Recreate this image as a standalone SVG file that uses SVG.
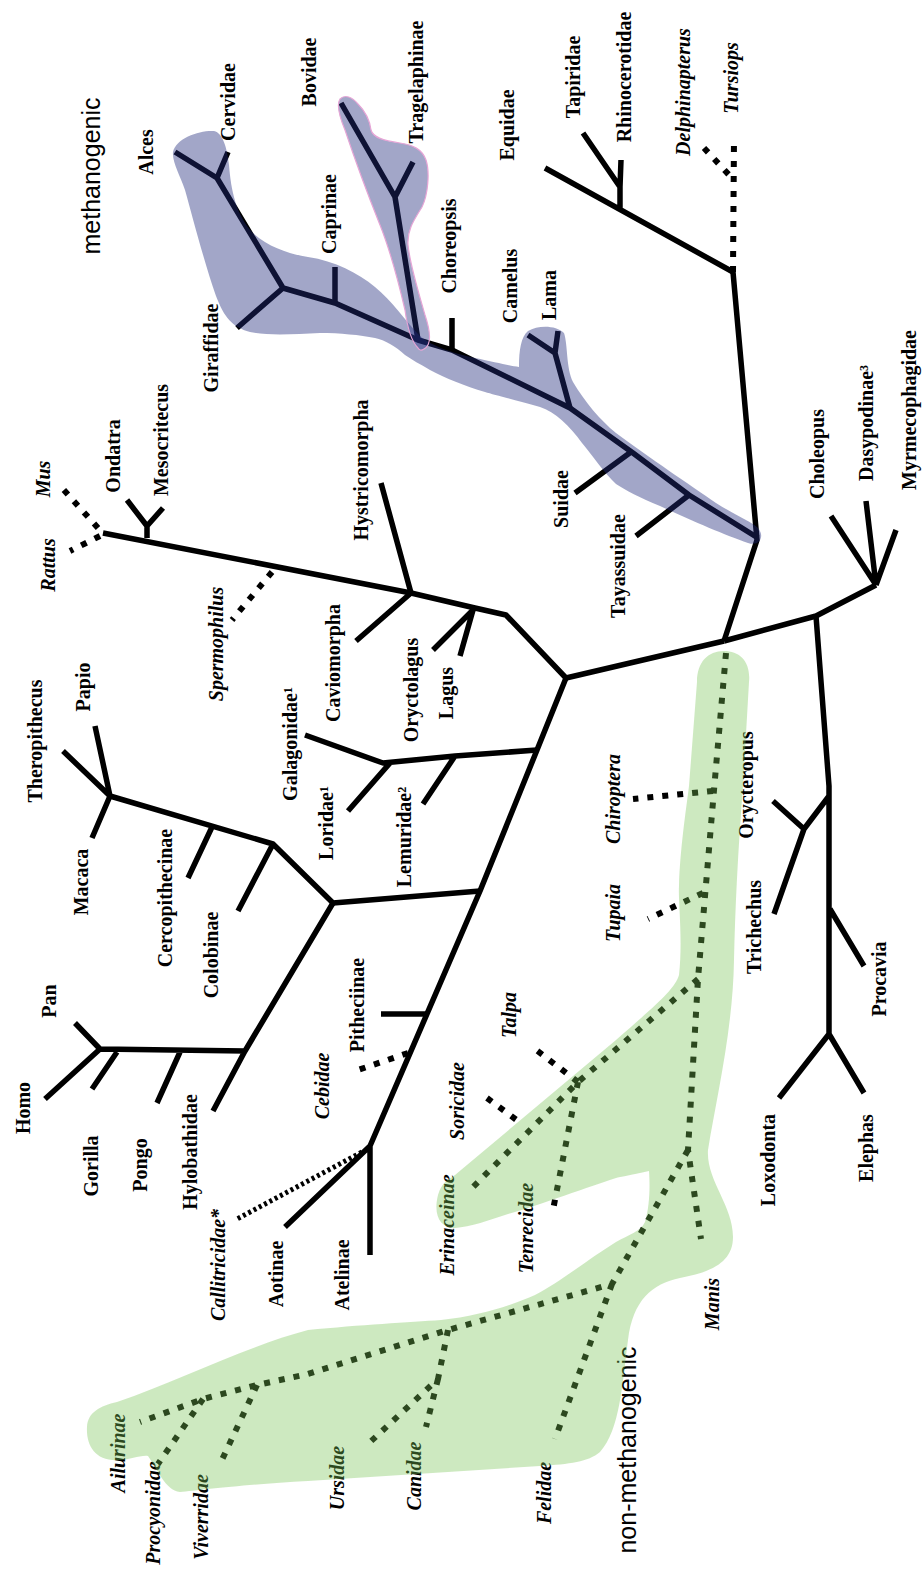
<svg xmlns="http://www.w3.org/2000/svg" width="924" height="1570" viewBox="0 0 924 1570">
<style>
.t{font-family:"Liberation Serif",serif;font-size:20px;font-weight:bold;text-anchor:middle;fill:#000}
.i{font-style:italic}
.lab{font-family:"Liberation Sans",Arial,sans-serif;font-size:25px;text-anchor:middle;fill:#000}
.s{fill:none;stroke:#000;stroke-width:5.5;stroke-linejoin:round}
.d{fill:none;stroke:#000;stroke-width:6;stroke-dasharray:6 9}
.f{fill:none;stroke:#000;stroke-width:5;stroke-dasharray:3 3}
.blue{fill:#222b7c;fill-opacity:0.42}
.green{fill:#77c354;fill-opacity:0.37}
</style>
<rect width="924" height="1570" fill="#fff"/>
<g id="connectors">
<path class="s" d="M758,538 L689,495 L633,453 L570,408 L452,350 L418,340 L335,303 L283,288 L217,178 L175,152"/>
<path class="s" d="M283,288 L237,328 M217,178 L228,152 M335,303 L335,267 M452,350 L452,318"/>
<path class="s" d="M418,340 L395,197 L341,103 M395,197 L413,162"/>
<path class="s" d="M570,408 L555,353 L528,335 M555,353 L558,331"/>
<path class="s" d="M631,452 L575,493 M689,495 L636,536"/>
<path class="s" d="M724,641 L757,540 L733,272"/>
<path class="s" d="M733,272 L545,168 M620,210 L620,187 L583,133 M620,187 L621,160"/>
<path class="d" d="M733,272 L734,137 M704,148 L731,177"/>
<path class="s" d="M724,641 L816,616 L876,585 M876,585 L831,516 M876,585 L866,501 M876,585 L896,530"/>
<path class="s" d="M816,616 L829,786 L829,1034 M829,796 L804,829 L773,801 M804,829 L774,914 M830,909 L864,966 M829,1034 L779,1098 M829,1034 L864,1093"/>
<path class="s" d="M724,641 L566,678 L506,615 L475,608 L411,593 L103,533"/>
<path class="s" d="M475,608 L433,650 M473,610 L460,656 M411,593 L381,483 M411,593 L356,641"/>
<path class="s" d="M147,538 L147,526 L127,500 M147,526 L163,508"/>
<path class="d" d="M272,572 L232,620 M98,528 L62,488 M100,536 L70,551"/>
<path class="s" d="M566,678 L537,750 L480,891 L370,1146 L370,1255 M370,1146 L285,1227"/>
<path class="s" d="M537,750 L455,756 L383,763 L305,735 M390,763 L348,811 M455,756 L423,804"/>
<path class="s" d="M428,1014 L381,1014"/>
<path class="d" d="M408,1053 L355,1071"/>
<path class="f" d="M362,1152 L237,1219"/>
<path class="s" d="M480,891 L333,903 L273,844 L110,796 M110,796 L92,838 M110,796 L63,751 M110,796 L95,726 M273,844 L238,911 M212,827 L188,878"/>
<path class="s" d="M333,903 L245,1051 L100,1049 M245,1051 L213,1111 M180,1052 L157,1103 M117,1052 L92,1089 M100,1049 L45,1099 M100,1049 L75,1023"/>
<path class="d" d="M726,653 L714,790 L698,979 L688,1150 L701,1239"/>
<path class="d" d="M713,791 L633,799 M703,893 L648,919"/>
<path class="d" d="M698,979 L578,1082 L470,1190 M578,1082 L531,1046 M578,1082 L553,1210 M487,1098 L522,1124"/>
<path class="d" d="M688,1150 L612,1284 L448,1330 L308,1374 L257,1385 L203,1399 L140,1422 M203,1399 L158,1464 M257,1385 L220,1464 M448,1330 L438,1379 L368,1444 M438,1379 L426,1427 M612,1284 L555,1439"/>
</g>
<g id="labels">
<g id="n-alces"><text class="t" transform="translate(153,152) rotate(-90)">Alces</text></g>
<g id="n-cervidae"><text class="t" transform="translate(235,102) rotate(-90)">Cervidae</text></g>
<g id="n-bovidae"><text class="t" transform="translate(316,72) rotate(-90)">Bovidae</text></g>
<g id="n-tragelaphinae"><text class="t" transform="translate(423,82) rotate(-90)">Tragelaphinae</text></g>
<g id="n-caprinae"><text class="t" transform="translate(336,214) rotate(-90)">Caprinae</text></g>
<g id="n-choreopsis"><text class="t" transform="translate(456,246) rotate(-90)">Choreopsis</text></g>
<g id="n-equidae"><text class="t" transform="translate(514,125) rotate(-90)">Equidae</text></g>
<g id="n-camelus"><text class="t" transform="translate(517,286) rotate(-90)">Camelus</text></g>
<g id="n-lama"><text class="t" transform="translate(556,295) rotate(-90)">Lama</text></g>
<g id="n-tapiridae"><text class="t" transform="translate(580,77) rotate(-90)">Tapiridae</text></g>
<g id="n-rhinocerotidae"><text class="t" transform="translate(631,77) rotate(-90)">Rhinocerotidae</text></g>
<g id="n-delphinapterus"><text class="t i" transform="translate(690,92) rotate(-90)">Delphinapterus</text></g>
<g id="n-tursiops"><text class="t i" transform="translate(738,78) rotate(-90)">Tursiops</text></g>
<g id="n-giraffidae"><text class="t" transform="translate(218,348) rotate(-90)">Giraffidae</text></g>
<g id="n-mesocritecus"><text class="t" transform="translate(168,440) rotate(-90)">Mesocritecus</text></g>
<g id="n-ondatra"><text class="t" transform="translate(120,456) rotate(-90)">Ondatra</text></g>
<g id="n-mus"><text class="t i" transform="translate(50,479) rotate(-90)">Mus</text></g>
<g id="n-rattus"><text class="t i" transform="translate(55,565) rotate(-90)">Rattus</text></g>
<g id="n-spermophilus"><text class="t i" transform="translate(223,644) rotate(-90)">Spermophilus</text></g>
<g id="n-hystricomorpha"><text class="t" transform="translate(368,470) rotate(-90)">Hystricomorpha</text></g>
<g id="n-caviomorpha"><text class="t" transform="translate(340,663) rotate(-90)">Caviomorpha</text></g>
<g id="n-oryctolagus"><text class="t" transform="translate(418,690) rotate(-90)">Oryctolagus</text></g>
<g id="n-lagus"><text class="t" transform="translate(453,693) rotate(-90)">Lagus</text></g>
<g id="n-suidae"><text class="t" transform="translate(568,499) rotate(-90)">Suidae</text></g>
<g id="n-tayassuidae"><text class="t" transform="translate(625,566) rotate(-90)">Tayassuidae</text></g>
<g id="n-choleopus"><text class="t" transform="translate(824,454) rotate(-90)">Choleopus</text></g>
<g id="n-dasypodinae"><text class="t" transform="translate(873,423) rotate(-90)">Dasypodinae³</text></g>
<g id="n-myrmecophagidae"><text class="t" transform="translate(916,410) rotate(-90)">Myrmecophagidae</text></g>
<g id="n-theropithecus"><text class="t" transform="translate(42,741) rotate(-90)">Theropithecus</text></g>
<g id="n-papio"><text class="t" transform="translate(90,687) rotate(-90)">Papio</text></g>
<g id="n-galagonidae"><text class="t" transform="translate(297,744) rotate(-90)">Galagonidae¹</text></g>
<g id="n-loridae"><text class="t" transform="translate(333,823) rotate(-90)">Loridae¹</text></g>
<g id="n-lemuridae"><text class="t" transform="translate(411,837) rotate(-90)">Lemuridae²</text></g>
<g id="n-macaca"><text class="t" transform="translate(88,882) rotate(-90)">Macaca</text></g>
<g id="n-cercopithecinae"><text class="t" transform="translate(172,898) rotate(-90)">Cercopithecinae</text></g>
<g id="n-colobinae"><text class="t" transform="translate(218,955) rotate(-90)">Colobinae</text></g>
<g id="n-pan"><text class="t" transform="translate(56,1001) rotate(-90)">Pan</text></g>
<g id="n-homo"><text class="t" transform="translate(30,1108) rotate(-90)">Homo</text></g>
<g id="n-gorilla"><text class="t" transform="translate(98,1166) rotate(-90)">Gorilla</text></g>
<g id="n-pongo"><text class="t" transform="translate(147,1165) rotate(-90)">Pongo</text></g>
<g id="n-hylobathidae"><text class="t" transform="translate(197,1152) rotate(-90)">Hylobathidae</text></g>
<g id="n-callitricidae"><text class="t i" transform="translate(225,1265) rotate(-90)">Callitricidae*</text></g>
<g id="n-aotinae"><text class="t" transform="translate(283,1274) rotate(-90)">Aotinae</text></g>
<g id="n-atelinae"><text class="t" transform="translate(349,1275) rotate(-90)">Atelinae</text></g>
<g id="n-pitheciinae"><text class="t" transform="translate(364,1005) rotate(-90)">Pitheciinae</text></g>
<g id="n-cebidae"><text class="t i" transform="translate(329,1086) rotate(-90)">Cebidae</text></g>
<g id="n-talpa"><text class="t i" transform="translate(516,1015) rotate(-90)">Talpa</text></g>
<g id="n-soricidae"><text class="t i" transform="translate(464,1101) rotate(-90)">Soricidae</text></g>
<g id="n-erinaceinae"><text class="t i" transform="translate(454,1225) rotate(-90)">Erinaceinae</text></g>
<g id="n-tenrecidae"><text class="t i" transform="translate(533,1228) rotate(-90)">Tenrecidae</text></g>
<g id="n-chiroptera"><text class="t i" transform="translate(620,799) rotate(-90)">Chiroptera</text></g>
<g id="n-tupaia"><text class="t i" transform="translate(620,913) rotate(-90)">Tupaia</text></g>
<g id="n-orycteropus"><text class="t" transform="translate(753,785) rotate(-90)">Orycteropus</text></g>
<g id="n-trichechus"><text class="t" transform="translate(761,927) rotate(-90)">Trichechus</text></g>
<g id="n-procavia"><text class="t" transform="translate(886,979) rotate(-90)">Procavia</text></g>
<g id="n-loxodonta"><text class="t" transform="translate(775,1160) rotate(-90)">Loxodonta</text></g>
<g id="n-elephas"><text class="t" transform="translate(873,1148) rotate(-90)">Elephas</text></g>
<g id="n-manis"><text class="t i" transform="translate(719,1304) rotate(-90)">Manis</text></g>
<g id="n-ailurinae"><text class="t i" transform="translate(125,1453) rotate(-90)">Ailurinae</text></g>
<g id="n-procyonidae"><text class="t i" transform="translate(160,1513) rotate(-90)">Procyonidae</text></g>
<g id="n-viverridae"><text class="t i" transform="translate(208,1517) rotate(-90)">Viverridae</text></g>
<g id="n-ursidae"><text class="t i" transform="translate(344,1478) rotate(-90)">Ursidae</text></g>
<g id="n-canidae"><text class="t i" transform="translate(421,1476) rotate(-90)">Canidae</text></g>
<g id="n-felidae"><text class="t i" transform="translate(551,1493) rotate(-90)">Felidae</text></g>
<g id="methanogenic"><text class="lab" transform="translate(100,176) rotate(-90)">methanogenic</text></g>
<g id="non-methanogenic"><text class="lab" transform="translate(636,1450) rotate(-90)">non-methanogenic</text></g>
</g>
<g id="regions">
<path id="region-methanogenic" class="blue" d="M173,152 C176,138 200,130 214,131 C223,133 227,148 229,165 C231,190 236,215 253,233 C268,247 290,254 308,257 C335,261 358,273 375,287 C392,301 405,320 418,334 C428,345 452,353 475,358 C495,362 510,366 519,367 C519,350 521,337 528,331 C538,325 556,325 564,333 C568,345 566,368 573,382 C585,402 600,420 616,433 C650,458 690,485 716,503 C735,515 752,522 758,528 C765,536 760,547 748,543 C725,535 690,520 660,506 C640,498 625,490 616,484 C605,474 592,455 582,443 C570,426 555,412 540,407 C515,400 495,395 485,392 C465,386 445,378 430,370 C420,364 412,360 405,355 C395,346 385,340 375,338 C360,335 340,333 320,333 C295,334 270,336 250,332 C232,327 224,317 216,296 C205,265 192,215 185,190 C180,175 172,162 173,152 Z"/>
<path id="region-bovidae" class="blue" stroke="#e6a5d6" stroke-width="1.2" d="M418,348 C410,340 407,325 405,310 C398,280 390,250 380,225 C368,195 355,160 345,130 C340,118 336,105 340,99 C345,94 352,97 358,104 C366,112 370,122 371,130 C373,138 385,141 400,143 C413,145 422,149 426,160 C430,172 428,195 422,207 C414,220 407,230 408,245 C410,265 418,290 425,315 C430,330 432,345 424,349 C421,351 419,350 418,348 Z"/>
<path id="region-non-methanogenic" class="green" d="M724,651 C740,651 751,662 749,682 L743,786 C738,850 735,910 734,960 C733,1030 716,1100 708,1150 C706,1180 733,1205 733,1237 C733,1262 712,1272 680,1278 C652,1284 633,1300 628,1340 C622,1385 620,1430 600,1452 C588,1462 570,1464 540,1466 L308,1481 C250,1484 200,1490 180,1492 C165,1490 158,1470 148,1456 C140,1455 130,1460 120,1460 C95,1462 86,1445 87,1427 C88,1412 100,1406 117,1402 C180,1380 250,1345 308,1330 C360,1325 410,1322 441,1320 C480,1316 515,1304 535,1295 C560,1282 590,1258 616,1242 C630,1234 640,1232 645,1222 C650,1205 650,1185 649,1171 C630,1175 620,1177 616,1178 C580,1190 530,1208 508,1214 C490,1220 470,1227 455,1228 C440,1228 433,1215 438,1195 C442,1182 448,1180 455,1175 L616,1040 C650,1010 675,990 679,975 C683,940 678,900 679,886 C680,850 686,810 689,786 L697,682 C697,662 708,651 724,651 Z"/>
</g>
</svg>
